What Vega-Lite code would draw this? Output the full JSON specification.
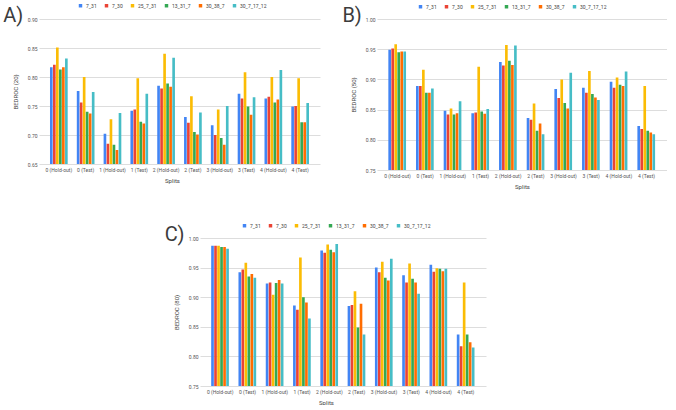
{
  "$schema": "https://vega.github.io/schema/vega-lite/v6.json",
  "padding": {"left": 3, "top": 3, "right": 0, "bottom": 0},
  "background": "white",
  "config": {
    "font": "Roboto",
    "view": {"stroke": null},
    "axis": {"labelFont": "Roboto", "titleFont": "Roboto", "labelColor": "#555555", "titleColor": "#444444", "titleFontWeight": "normal", "labelFontSize": 5, "titleFontSize": 6, "ticks": false, "tickSize": 0},
    "axisX": {"labelAngle": 0, "domain": false, "grid": false, "labelPadding": 3, "titlePadding": 5},
    "axisY": {"domain": false, "gridColor": "#dddddd", "labelPadding": 2, "titlePadding": 9, "tickCount": 5, "format": ".2f"},
    "legend": {"labelFontSize": 5, "labelColor": "#444444", "symbolType": "square", "symbolSize": 12, "symbolStrokeWidth": 0, "columnPadding": 7, "labelOffset": 3, "direction": "horizontal", "orient": "none", "title": null},
    "title": {"fontSize": 20, "fontWeight": "normal", "color": "#3c3c3c", "font": "Roboto", "orient": "left", "angle": 0, "anchor": "end", "frame": "group", "align": "right", "baseline": "top", "offset": -31, "dy": -13}
  },
  "datasets": {
    "a": [
      {"split": "0 (Hold-out)", "7_31": 0.817, "7_30": 0.821, "25_7_31": 0.851, "13_31_7": 0.813, "30_38_7": 0.817, "30_7_17_12": 0.832},
      {"split": "0 (Test)", "7_31": 0.776, "7_30": 0.756, "25_7_31": 0.800, "13_31_7": 0.740, "30_38_7": 0.737, "30_7_17_12": 0.774},
      {"split": "1 (Hold-out)", "7_31": 0.702, "7_30": 0.685, "25_7_31": 0.727, "13_31_7": 0.683, "30_38_7": 0.674, "30_7_17_12": 0.738},
      {"split": "1 (Test)", "7_31": 0.742, "7_30": 0.744, "25_7_31": 0.798, "13_31_7": 0.723, "30_38_7": 0.720, "30_7_17_12": 0.771},
      {"split": "2 (Hold-out)", "7_31": 0.785, "7_30": 0.780, "25_7_31": 0.840, "13_31_7": 0.789, "30_38_7": 0.783, "30_7_17_12": 0.833},
      {"split": "2 (Test)", "7_31": 0.731, "7_30": 0.721, "25_7_31": 0.767, "13_31_7": 0.705, "30_38_7": 0.701, "30_7_17_12": 0.739},
      {"split": "3 (Hold-out)", "7_31": 0.717, "7_30": 0.700, "25_7_31": 0.744, "13_31_7": 0.695, "30_38_7": 0.683, "30_7_17_12": 0.750},
      {"split": "3 (Test)", "7_31": 0.771, "7_30": 0.763, "25_7_31": 0.808, "13_31_7": 0.749, "30_38_7": 0.735, "30_7_17_12": 0.765},
      {"split": "4 (Hold-out)", "7_31": 0.763, "7_30": 0.766, "25_7_31": 0.800, "13_31_7": 0.756, "30_38_7": 0.761, "30_7_17_12": 0.812},
      {"split": "4 (Test)", "7_31": 0.749, "7_30": 0.750, "25_7_31": 0.798, "13_31_7": 0.722, "30_38_7": 0.722, "30_7_17_12": 0.755}
    ],
    "b": [
      {"split": "0 (Hold-out)", "7_31": 0.949, "7_30": 0.951, "25_7_31": 0.958, "13_31_7": 0.945, "30_38_7": 0.946, "30_7_17_12": 0.946},
      {"split": "0 (Test)", "7_31": 0.889, "7_30": 0.889, "25_7_31": 0.916, "13_31_7": 0.878, "30_38_7": 0.878, "30_7_17_12": 0.885},
      {"split": "1 (Hold-out)", "7_31": 0.848, "7_30": 0.842, "25_7_31": 0.852, "13_31_7": 0.842, "30_38_7": 0.844, "30_7_17_12": 0.864},
      {"split": "1 (Test)", "7_31": 0.844, "7_30": 0.845, "25_7_31": 0.921, "13_31_7": 0.847, "30_38_7": 0.843, "30_7_17_12": 0.851},
      {"split": "2 (Hold-out)", "7_31": 0.929, "7_30": 0.923, "25_7_31": 0.957, "13_31_7": 0.931, "30_38_7": 0.924, "30_7_17_12": 0.956},
      {"split": "2 (Test)", "7_31": 0.836, "7_30": 0.833, "25_7_31": 0.860, "13_31_7": 0.815, "30_38_7": 0.827, "30_7_17_12": 0.809},
      {"split": "3 (Hold-out)", "7_31": 0.884, "7_30": 0.869, "25_7_31": 0.900, "13_31_7": 0.861, "30_38_7": 0.852, "30_7_17_12": 0.911},
      {"split": "3 (Test)", "7_31": 0.886, "7_30": 0.878, "25_7_31": 0.914, "13_31_7": 0.876, "30_38_7": 0.870, "30_7_17_12": 0.866},
      {"split": "4 (Hold-out)", "7_31": 0.896, "7_30": 0.886, "25_7_31": 0.903, "13_31_7": 0.891, "30_38_7": 0.889, "30_7_17_12": 0.913},
      {"split": "4 (Test)", "7_31": 0.823, "7_30": 0.818, "25_7_31": 0.889, "13_31_7": 0.815, "30_38_7": 0.812, "30_7_17_12": 0.809}
    ],
    "c": [
      {"split": "0 (Hold-out)", "7_31": 0.987, "7_30": 0.987, "25_7_31": 0.987, "13_31_7": 0.985, "30_38_7": 0.985, "30_7_17_12": 0.982},
      {"split": "0 (Test)", "7_31": 0.942, "7_30": 0.947, "25_7_31": 0.958, "13_31_7": 0.935, "30_38_7": 0.939, "30_7_17_12": 0.933},
      {"split": "1 (Hold-out)", "7_31": 0.923, "7_30": 0.925, "25_7_31": 0.904, "13_31_7": 0.924, "30_38_7": 0.929, "30_7_17_12": 0.923},
      {"split": "1 (Test)", "7_31": 0.886, "7_30": 0.879, "25_7_31": 0.967, "13_31_7": 0.900, "30_38_7": 0.891, "30_7_17_12": 0.864},
      {"split": "2 (Hold-out)", "7_31": 0.979, "7_30": 0.975, "25_7_31": 0.989, "13_31_7": 0.980, "30_38_7": 0.976, "30_7_17_12": 0.990},
      {"split": "2 (Test)", "7_31": 0.885, "7_30": 0.887, "25_7_31": 0.910, "13_31_7": 0.849, "30_38_7": 0.889, "30_7_17_12": 0.837},
      {"split": "3 (Hold-out)", "7_31": 0.950, "7_30": 0.942, "25_7_31": 0.960, "13_31_7": 0.933, "30_38_7": 0.928, "30_7_17_12": 0.965},
      {"split": "3 (Test)", "7_31": 0.937, "7_30": 0.925, "25_7_31": 0.957, "13_31_7": 0.931, "30_38_7": 0.925, "30_7_17_12": 0.906},
      {"split": "4 (Hold-out)", "7_31": 0.955, "7_30": 0.943, "25_7_31": 0.949, "13_31_7": 0.948, "30_38_7": 0.944, "30_7_17_12": 0.948},
      {"split": "4 (Test)", "7_31": 0.837, "7_30": 0.817, "25_7_31": 0.925, "13_31_7": 0.837, "30_38_7": 0.824, "30_7_17_12": 0.815}
    ]
  },
  "vconcat": [
    {
      "hconcat": [
        {
          "title": "A)",
          "width": 281,
          "height": 145,
          "data": {"name": "a"},
          "transform": [{"fold": ["7_31", "7_30", "25_7_31", "13_31_7", "30_38_7", "30_7_17_12"], "as": ["model", "bedroc"]}],
          "mark": {"type": "bar", "clip": true},
          "encoding": {
            "x": {"field": "split", "type": "nominal", "sort": null, "scale": {"paddingInner": 0.34, "paddingOuter": 0.41}, "axis": {"title": "Splits", "titleX": 133}},
            "xOffset": {"field": "model", "type": "nominal", "sort": ["7_31", "7_30", "25_7_31", "13_31_7", "30_38_7", "30_7_17_12"], "scale": {"paddingInner": 0.12}},
            "y": {"field": "bedroc", "type": "quantitative", "title": "BEDROC (20)", "scale": {"domain": [0.65, 0.9], "zero": false, "nice": false}},
            "color": {"field": "model", "type": "nominal", "sort": ["7_31", "7_30", "25_7_31", "13_31_7", "30_38_7", "30_7_17_12"], "scale": {"range": ["#4285F4", "#EA4335", "#FBBC04", "#34A853", "#FF6D01", "#46BDC6"]}, "legend": {"legendX": 39, "legendY": -16}}
          }
        },
        {
          "title": "B)",
          "width": 290,
          "height": 151,
          "data": {"name": "b"},
          "transform": [{"fold": ["7_31", "7_30", "25_7_31", "13_31_7", "30_38_7", "30_7_17_12"], "as": ["model", "bedroc"]}],
          "mark": {"type": "bar", "clip": true},
          "encoding": {
            "x": {"field": "split", "type": "nominal", "sort": null, "title": "Splits", "scale": {"paddingInner": 0.34, "paddingOuter": 0.41}},
            "xOffset": {"field": "model", "type": "nominal", "sort": ["7_31", "7_30", "25_7_31", "13_31_7", "30_38_7", "30_7_17_12"], "scale": {"paddingInner": 0.12}},
            "y": {"field": "bedroc", "type": "quantitative", "title": "BEDROC (50)", "scale": {"domain": [0.75, 1.0], "zero": false, "nice": false}},
            "color": {"field": "model", "type": "nominal", "sort": ["7_31", "7_30", "25_7_31", "13_31_7", "30_38_7", "30_7_17_12"], "scale": {"range": ["#4285F4", "#EA4335", "#FBBC04", "#34A853", "#FF6D01", "#46BDC6"]}, "legend": {"legendX": 41, "legendY": -15}}
          }
        }
      ],
      "spacing": 22,
      "resolve": {"scale": {"y": "independent", "x": "independent", "color": "independent"}, "legend": {"color": "independent"}}
    },
    {
      "hconcat": [
        {
          "width": 121,
          "height": 148,
          "data": {"values": []},
          "mark": {"type": "rule"},
          "encoding": {}
        },
        {
          "title": "C)",
          "width": 286,
          "height": 148,
          "data": {"name": "c"},
          "transform": [{"fold": ["7_31", "7_30", "25_7_31", "13_31_7", "30_38_7", "30_7_17_12"], "as": ["model", "bedroc"]}],
          "mark": {"type": "bar", "clip": true},
          "encoding": {
            "x": {"field": "split", "type": "nominal", "sort": null, "scale": {"paddingInner": 0.34, "paddingOuter": 0.41}, "axis": {"title": "Splits", "titleX": 126}},
            "xOffset": {"field": "model", "type": "nominal", "sort": ["7_31", "7_30", "25_7_31", "13_31_7", "30_38_7", "30_7_17_12"], "scale": {"paddingInner": 0.12}},
            "y": {"field": "bedroc", "type": "quantitative", "title": "BEDROC (80)", "scale": {"domain": [0.75, 1.0], "zero": false, "nice": false}},
            "color": {"field": "model", "type": "nominal", "sort": ["7_31", "7_30", "25_7_31", "13_31_7", "30_38_7", "30_7_17_12"], "scale": {"range": ["#4285F4", "#EA4335", "#FBBC04", "#34A853", "#FF6D01", "#46BDC6"]}, "legend": {"legendX": 42, "legendY": -15}}
          }
        }
      ],
      "spacing": 4,
      "resolve": {"scale": {"y": "independent", "x": "independent", "color": "independent"}, "legend": {"color": "independent"}}
    }
  ],
  "spacing": 34,
  "resolve": {"scale": {"y": "independent", "x": "independent", "color": "independent"}, "legend": {"color": "independent"}}
}
